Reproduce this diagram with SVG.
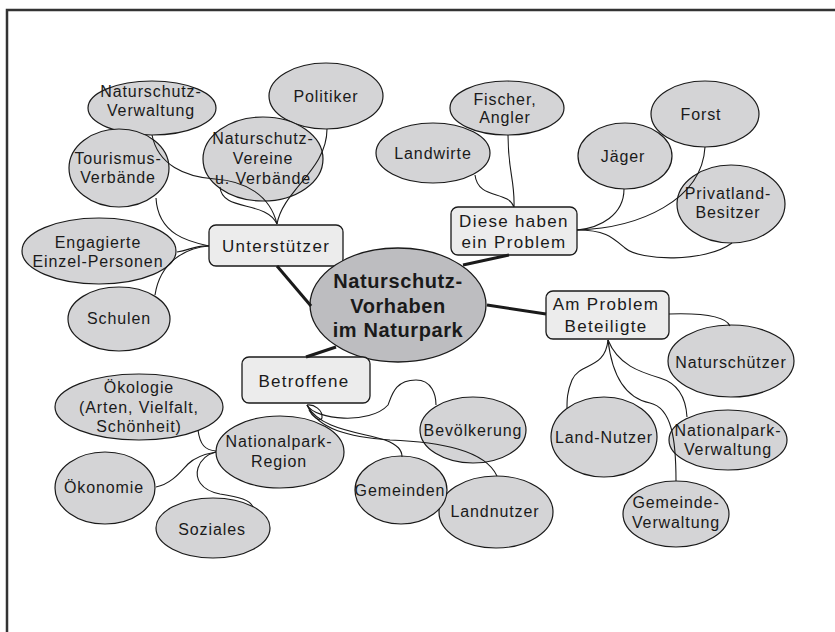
<svg xmlns="http://www.w3.org/2000/svg" width="835" height="632" viewBox="0 0 835 632">
<style>
.bg{fill:#ffffff}
.frame{fill:none;stroke:#333;stroke-width:2.5}
.el{fill:#d4d4d6;stroke:#1a1a1a;stroke-width:1.2}
.ctr{fill:#bdbdc0;stroke:#1a1a1a;stroke-width:1.3}
.box{fill:#ececec;stroke:#1a1a1a;stroke-width:1.3}
.t{font-family:"Liberation Sans","DejaVu Sans",sans-serif;font-size:16px;fill:#1a1a1a;text-anchor:middle;letter-spacing:0.9px}
.tb{font-family:"Liberation Sans","DejaVu Sans",sans-serif;font-size:17px;fill:#1a1a1a;text-anchor:middle;letter-spacing:1.3px}
.tc{font-family:"Liberation Sans","DejaVu Sans",sans-serif;font-size:20px;font-weight:bold;fill:#1a1a1a;text-anchor:middle;letter-spacing:0.6px}
.thin{fill:none;stroke:#1a1a1a;stroke-width:1.1}
.thick{fill:none;stroke:#1a1a1a;stroke-width:3}
</style>
<rect class="bg" x="0" y="0" width="835" height="632"/>
<path class="frame" d="M7,632 V10 H835"/>

<g id="nodes">
<g id="n-verwaltung"><ellipse class="el" cx="152" cy="108" rx="64" ry="27"/><text class="t" x="151" y="97">Naturschutz-</text><text class="t" x="151" y="116">Verwaltung</text></g>
<g id="n-politiker"><ellipse class="el" cx="326" cy="96" rx="57" ry="33"/><text class="t" x="326" y="102">Politiker</text></g>
<g id="n-tourismus"><ellipse class="el" cx="119" cy="168" rx="50" ry="39"/><text class="t" x="118" y="164">Tourismus-</text><text class="t" x="118" y="183">Verbände</text></g>
<g id="n-vereine"><ellipse class="el" cx="263" cy="159" rx="60" ry="42"/><text class="t" x="263" y="144">Naturschutz-</text><text class="t" x="263" y="164">Vereine</text><text class="t" x="263" y="184">u. Verbände</text></g>
<g id="n-engagierte"><ellipse class="el" cx="99" cy="251" rx="77" ry="33"/><text class="t" x="98" y="248">Engagierte</text><text class="t" x="98" y="267">Einzel-Personen</text></g>
<g id="n-schulen"><ellipse class="el" cx="119" cy="319" rx="51" ry="32"/><text class="t" x="119" y="324">Schulen</text></g>
<g id="n-unterstuetzer"><rect class="box" x="209" y="225" width="134" height="41" rx="7"/><text class="tb" x="276" y="252">Unterstützer</text></g>

<g id="n-landwirte"><ellipse class="el" cx="433" cy="153" rx="57" ry="30"/><text class="t" x="433" y="159">Landwirte</text></g>
<g id="n-fischer"><ellipse class="el" cx="507" cy="108" rx="57" ry="27"/><text class="t" x="505" y="105">Fischer,</text><text class="t" x="505" y="123">Angler</text></g>
<g id="n-forst"><ellipse class="el" cx="705" cy="114" rx="54" ry="33"/><text class="t" x="701" y="120">Forst</text></g>
<g id="n-jaeger"><ellipse class="el" cx="625" cy="156" rx="47" ry="33"/><text class="t" x="623" y="162">Jäger</text></g>
<g id="n-privatland"><ellipse class="el" cx="731" cy="204" rx="54" ry="39"/><text class="t" x="728" y="199">Privatland-</text><text class="t" x="728" y="218">Besitzer</text></g>
<g id="n-diese"><rect class="box" x="451" y="207" width="126" height="48" rx="7"/><text class="tb" x="514" y="227">Diese haben</text><text class="tb" x="514" y="248">ein Problem</text></g>

<g id="n-center"><ellipse class="ctr" cx="398" cy="305" rx="88" ry="57"/><text class="tc" x="398" y="288">Naturschutz-</text><text class="tc" x="398" y="313">Vorhaben</text><text class="tc" x="398" y="337">im Naturpark</text></g>

<g id="n-amproblem"><rect class="box" x="546" y="291" width="123" height="48" rx="7"/><text class="tb" x="606" y="310">Am Problem</text><text class="tb" x="606" y="332">Beteiligte</text></g>
<g id="n-naturschuetzer"><ellipse class="el" cx="731" cy="361" rx="63" ry="36"/><text class="t" x="731" y="368">Naturschützer</text></g>
<g id="n-landnutzer2"><ellipse class="el" cx="604" cy="437" rx="53" ry="40"/><text class="t" x="604" y="443">Land-Nutzer</text></g>
<g id="n-npverwaltung"><ellipse class="el" cx="728" cy="440" rx="59" ry="30"/><text class="t" x="728" y="436">Nationalpark-</text><text class="t" x="728" y="455">Verwaltung</text></g>
<g id="n-gemeindeverw"><ellipse class="el" cx="676" cy="514" rx="53" ry="33"/><text class="t" x="676" y="508">Gemeinde-</text><text class="t" x="676" y="528">Verwaltung</text></g>

<g id="n-betroffene"><rect class="box" x="242" y="357" width="128" height="46" rx="7"/><text class="tb" x="304" y="387">Betroffene</text></g>
<g id="n-bevoelkerung"><ellipse class="el" cx="473" cy="430" rx="53" ry="33"/><text class="t" x="473" y="436">Bevölkerung</text></g>
<g id="n-landnutzer"><ellipse class="el" cx="496" cy="512" rx="57" ry="36"/><text class="t" x="495" y="517">Landnutzer</text></g>
<g id="n-gemeinden"><ellipse class="el" cx="401" cy="490" rx="46" ry="34"/><text class="t" x="400" y="496">Gemeinden</text></g>
<g id="n-oekologie"><ellipse class="el" cx="139" cy="407" rx="84" ry="33"/><text class="t" x="139" y="393">Ökologie</text><text class="t" x="139" y="413">(Arten, Vielfalt,</text><text class="t" x="139" y="432">Schönheit)</text></g>
<g id="n-region"><ellipse class="el" cx="280" cy="452" rx="64" ry="36"/><text class="t" x="279" y="447">Nationalpark-</text><text class="t" x="279" y="467">Region</text></g>
<g id="n-oekonomie"><ellipse class="el" cx="105" cy="488" rx="50" ry="36"/><text class="t" x="104" y="493">Ökonomie</text></g>
<g id="n-soziales"><ellipse class="el" cx="213" cy="528" rx="57" ry="30"/><text class="t" x="212" y="535">Soziales</text></g>
</g>

<g id="connectors">
<path class="thick" d="M277,266 L311,306"/>
<path class="thick" d="M463,265 L509,255"/>
<path class="thick" d="M487,305 L546,314"/>
<path class="thick" d="M336,347 L306,357"/>

<path class="thin" d="M327,129 C327,170 283,190 277,224"/>
<path class="thin" d="M220,187 C222,212 266,200 277,224"/>
<path class="thin" d="M152,135 C158,165 185,177 215,179 C245,181 270,195 277,224"/>
<path class="thin" d="M156,198 C158,235 190,242 209,246"/>
<path class="thin" d="M177,252 C190,250 196,245 209,246"/>
<path class="thin" d="M209,246 C185,248 160,262 155,295"/>

<path class="thin" d="M508,135 C508,172 515,180 514,207"/>
<path class="thin" d="M475,175 C478,200 508,190 514,207"/>
<path class="thin" d="M624,189 C624,215 600,228 577,230"/>
<path class="thin" d="M705,147 C702,200 640,228 577,230"/>
<path class="thin" d="M577,230 C605,230 612,237 625,248 C640,261 705,263 732,243"/>

<path class="thin" d="M669,314 C700,313 725,315 730,326"/>
<path class="thin" d="M608,340 C605,370 580,362 572,380 C567,392 567,400 567,408"/>
<path class="thin" d="M608,340 C612,375 625,398 650,403 C672,408 676,440 676,481"/>
<path class="thin" d="M608,340 C618,365 640,372 660,378 C680,384 686,400 687,417"/>

<path class="thin" d="M307,405 C315,420 370,425 388,405 C392,395 395,380 416,380 C432,380 436,395 436,405"/>
<path class="thin" d="M307,405 C320,430 360,432 385,440 C398,445 402,450 402,457"/>
<path class="thin" d="M307,405 C318,430 350,437 390,440 C440,442 485,450 497,476"/>
<path class="thin" d="M307,405 C314,404 323,410 322,418 C320,423 312,416 309,410"/>

<path class="thin" d="M198,430 C200,445 205,450 216,451"/>
<path class="thin" d="M156,487 C172,484 182,470 188,464 C195,457 205,454 216,452"/>
<path class="thin" d="M253,507 C250,500 240,497 220,494 C200,490 195,478 198,468 C201,459 208,454 216,452"/>
</g>
</svg>
